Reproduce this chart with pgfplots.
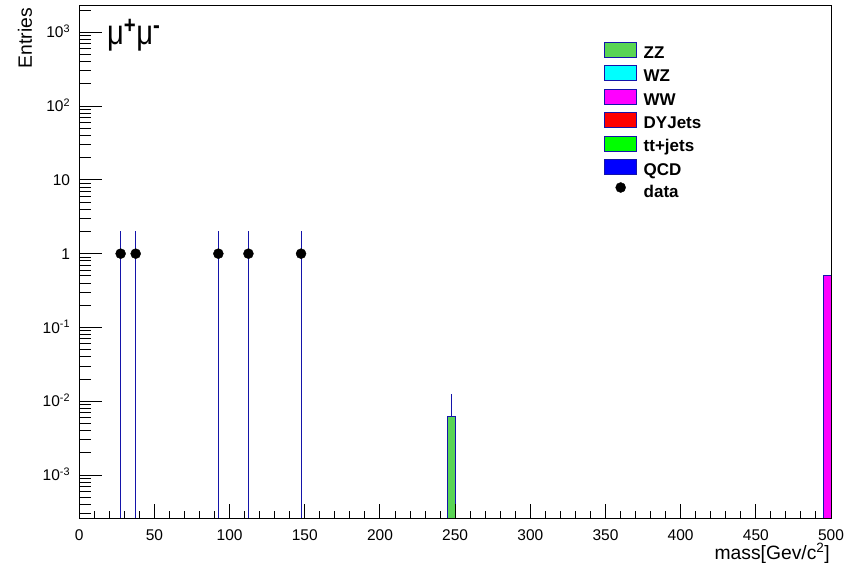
\documentclass[border=0pt]{standalone}
\usepackage{fontspec}
\setmainfont{Liberation Sans}
\usepackage{graphicx}
\usepackage{pgfplots}
\pgfplotsset{compat=1.18}
\definecolor{zzgreen}{rgb}{0.35,0.83,0.33}
\definecolor{navyline}{RGB}{20,20,170}
\definecolor{rcyan}{RGB}{0,255,255}
\definecolor{rmagenta}{RGB}{255,0,255}
\definecolor{rred}{RGB}{255,0,0}
\definecolor{rgreen}{RGB}{0,255,0}
\definecolor{rblue}{RGB}{0,0,255}
\newcommand{\ticksize}{\fontsize{15.5}{16}\selectfont}
\begin{document}
\begin{tikzpicture}
\useasboundingbox (0pt,0pt) rectangle (862pt,569pt);
% ---------- main axis: data, x ticks, legend
\begin{axis}[at={(79.3pt,50pt)}, anchor=south west, scale only axis,
  width=751.7pt, height=513pt,
  xmin=0, xmax=500, ymode=log, ymin=2.535e-4, ymax=2273, log origin y=infty,
  axis line style={line width=1pt, black},
  tick align=inside, xtick pos=bottom, ytick=\empty,
  xtick={0,50,...,500}, minor x tick num=4,
  major tick length=15pt, minor tick length=7.5pt,
  every tick/.append style={line width=1pt, black},
  /pgf/number format/assume math mode=true,
  xticklabel style={font=\ticksize, inner sep=0pt, anchor=north, yshift=-10pt},
  axis on top,
  legend cell align=left,
  legend style={at={(rel axis cs:0.698,0.93)}, anchor=north west,
    draw=none, fill=none, inner sep=0pt, row sep=3.4pt, column sep=6.5pt,
    font=\fontsize{17}{17}\selectfont\bfseries,
    nodes={inner sep=0pt, text height=15pt, text depth=3.6pt}},
  legend image code/.code={\draw[line width=1pt, #1] (0pt,-4.85pt) rectangle (32pt,10.15pt);},
]
% stacked MC histograms (only non-empty bins visible)
\addplot[fill=zzgreen, draw=navyline, line width=1pt, mark=none, forget plot]
  coordinates {(245,1e-6) (245,0.0062) (250,0.0062) (250,1e-6)} -- cycle;
\addplot[fill=rmagenta, draw=navyline, line width=1pt, mark=none, forget plot]
  coordinates {(495,1e-6) (495,0.51) (500,0.51) (500,1e-6)} -- cycle;
% MC stat error on ZZ bin
\addplot[navyline, line width=1pt, mark=none, forget plot]
  coordinates {(247.5,0.0062) (247.5,0.0126)};
% data error bars (upper ends; lower ends at 0)
\addplot[ycomb, navyline, line width=1pt, mark=none, forget plot]
  coordinates {(27.5,2) (37.5,2) (92.5,2) (112.5,2) (147.5,2)};
% data points
\addplot[only marks, mark=*, mark size=5pt, black, forget plot]
  coordinates {(27.5,1) (37.5,1) (92.5,1) (112.5,1) (147.5,1)};
% legend
\addlegendimage{fill=zzgreen, draw=navyline}
\addlegendentry{ZZ}
\addlegendimage{fill=rcyan, draw=navyline}
\addlegendentry{WZ}
\addlegendimage{fill=rmagenta, draw=navyline}
\addlegendentry{WW}
\addlegendimage{fill=rred, draw=navyline}
\addlegendentry{DYJets}
\addlegendimage{fill=rgreen, draw=navyline}
\addlegendentry{tt+jets}
\addlegendimage{fill=rblue, draw=navyline}
\addlegendentry{QCD}
\addlegendimage{legend image code/.code={\fill[black] (16pt,4pt) circle (5pt); \path[draw=none,fill=none] (0pt,0pt) -- (32.5pt,0pt);}}
\addlegendentry{data}
\end{axis}
% ---------- second axis: y ticks only
\begin{axis}[at={(79.3pt,50pt)}, anchor=south west, scale only axis,
  width=751.7pt, height=513pt,
  xmin=0, xmax=500, ymode=log, ymin=2.535e-4, ymax=2273,
  axis line style={line width=1pt, black},
  tick align=inside, ytick pos=left, xtick=\empty,
  ytick={1e-3,1e-2,1e-1,1,10,100,1000},
  yticklabels={10\textsuperscript{-3},10\textsuperscript{-2},10\textsuperscript{-1},1,10,10\textsuperscript{2},10\textsuperscript{3}},
  minor ytick={3e-4,4e-4,5e-4,6e-4,7e-4,8e-4,9e-4,
    2e-3,3e-3,4e-3,5e-3,6e-3,7e-3,8e-3,9e-3,
    2e-2,3e-2,4e-2,5e-2,6e-2,7e-2,8e-2,9e-2,
    0.2,0.3,0.4,0.5,0.6,0.7,0.8,0.9,
    2,3,4,5,6,7,8,9,
    20,30,40,50,60,70,80,90,
    200,300,400,500,600,700,800,900,2000},
  major tick length=23pt, minor tick length=12pt,
  every tick/.append style={line width=1pt, black},
  yticklabel style={font=\ticksize, inner sep=0pt, anchor=base east, xshift=-9pt, yshift=-5.6pt},
]
\end{axis}
% ---------- titles
\node[rotate=90, anchor=east, inner sep=0pt, font=\fontsize{19.3}{20}\selectfont] at (25pt,561pt) {Entries};
\node[anchor=base east, inner sep=0pt, font=\fontsize{19.3}{20}\selectfont] at (830pt,9pt) {mass[Gev/c\textsuperscript{2}]};
\node[anchor=base west, inner sep=0pt, font=\fontsize{28}{29}\selectfont] at (107pt,524pt) {\scalebox{1.04}[1.24]{μ\textsuperscript{\textbf{+}}μ\textsuperscript{\textbf{-}}}};
\end{tikzpicture}
\end{document}
